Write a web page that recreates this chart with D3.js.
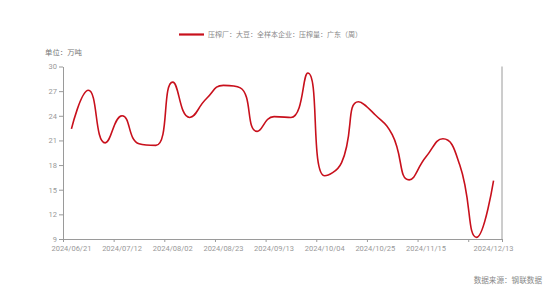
<!DOCTYPE html>
<html><head><meta charset="utf-8">
<script src="https://cdn.jsdelivr.net/npm/d3@7/dist/d3.min.js"></script>
<style>
html,body{margin:0;padding:0;background:#fff;}
svg{display:block;}
</style></head>
<body><svg id="c" width="553" height="291"></svg>
<script>
const dates = ["2024/06/21","2024/06/28","2024/07/05","2024/07/12","2024/07/19","2024/07/26","2024/08/02","2024/08/09","2024/08/16","2024/08/23","2024/08/30","2024/09/06","2024/09/13","2024/09/20","2024/09/27","2024/10/04","2024/10/11","2024/10/18","2024/10/25","2024/11/01","2024/11/08","2024/11/15","2024/11/22","2024/11/29","2024/12/06","2024/12/13"];
const values = [22.4,27.1,20.7,24.0,20.6,20.4,28.1,23.8,26.1,27.7,27.4,22.1,23.9,23.8,29.2,16.7,18.3,25.7,24.1,21.7,16.2,19.0,21.2,18.0,9.2,16.1];
const yTicks = [9,12,15,18,21,24,27,30];
const xLabelIdx = [0,3,6,9,12,15,18,21,25];
const xTickIdx = [0,3,6,9,12,15,18,21,24,26];
const seriesName = "压榨厂：大豆：全样本企业：压榨量：广东（周）";
const unitText = "单位：万吨";
const sourceText = "数据来源：钢联数据";

const L = 63, R = 502, T = 66.5, B = 239;
const svg = d3.select("#c");
const x = d3.scaleBand().domain(dates).range([L, R]).padding(0);
const xi = d3.scaleLinear().domain([0, dates.length]).range([L, R]);
const y = d3.scaleLinear().domain([9, 30]).range([B, T]);
const axisColor = "#9a9a9a", labelColor = "#999";
const numFont = "Roboto, 'Noto Sans', sans-serif";
const cjkFont = "'Noto Sans CJK SC', sans-serif";

// Y axis
const gy = svg.append("g").attr("transform", `translate(${L},0)`)
  .call(d3.axisLeft(y).tickValues(yTicks).tickSize(4).tickSizeOuter(0).tickPadding(2));
gy.select(".domain").attr("stroke", axisColor);
gy.selectAll(".tick line").attr("stroke", axisColor);
gy.selectAll(".tick text").attr("fill", labelColor).style("font-size", "7.5px").style("font-family", numFont);

// right axis line
svg.append("line").attr("x1", R).attr("x2", R).attr("y1", T).attr("y2", B).attr("stroke", axisColor);

// X axis
const gx = svg.append("g").attr("transform", `translate(0,${B})`)
  .call(d3.axisBottom(xi).tickValues(xTickIdx).tickFormat("").tickSize(3).tickSizeOuter(0));
gx.select(".domain").attr("stroke", axisColor);
gx.selectAll(".tick line").attr("stroke", axisColor);
svg.append("g").selectAll("text").data(xLabelIdx).join("text")
  .attr("x", i => x(dates[i]) + x.bandwidth() / 2)
  .attr("y", B + 12.3)
  .attr("text-anchor", "middle")
  .attr("fill", labelColor).style("font-size", "7.5px").style("font-family", numFont)
  .text(i => dates[i]);

// echarts-like smooth line
function smoothPath(pts, smooth) {
  const p = d3.path();
  const n = pts.length;
  let cpx0 = pts[0][0], cpy0 = pts[0][1];
  p.moveTo(pts[0][0], pts[0][1]);
  for (let i = 1; i < n; i++) {
    const [xx, yy] = pts[i];
    let cpx1, cpy1, nx0, ny0;
    if (i === n - 1) { cpx1 = xx; cpy1 = yy; }
    else {
      const [px, py] = pts[i - 1], [qx, qy] = pts[i + 1];
      let vx = qx - px, vy = qy - py;
      const lp = Math.hypot(xx - px, yy - py), ln = Math.hypot(qx - xx, qy - yy);
      const r = ln / (ln + lp);
      nx0 = xx + vx * smooth * r; ny0 = yy + vy * smooth * r;
      nx0 = Math.max(Math.min(nx0, Math.max(qx, xx)), Math.min(qx, xx));
      ny0 = Math.max(Math.min(ny0, Math.max(qy, yy)), Math.min(qy, yy));
      vx = nx0 - xx; vy = ny0 - yy;
      cpx1 = xx - vx * lp / ln; cpy1 = yy - vy * lp / ln;
      cpx1 = Math.max(Math.min(cpx1, Math.max(px, xx)), Math.min(px, xx));
      cpy1 = Math.max(Math.min(cpy1, Math.max(py, yy)), Math.min(py, yy));
      vx = xx - cpx1; vy = yy - cpy1;
      nx0 = xx + vx * ln / lp; ny0 = yy + vy * ln / lp;
    }
    p.bezierCurveTo(cpx0, cpy0, cpx1, cpy1, xx, yy);
    cpx0 = nx0; cpy0 = ny0;
  }
  return p.toString();
}
const pts = values.map((v, i) => [x(dates[i]) + x.bandwidth() / 2, y(v)]);
const lineColor = "#c8101c";
svg.append("path").attr("d", smoothPath(pts, 0.5))
  .attr("fill", "none").attr("stroke", lineColor).attr("stroke-width", 1.6);

// legend
svg.append("line").attr("x1", 179).attr("x2", 204).attr("y1", 34.5).attr("y2", 34.5)
  .attr("stroke", lineColor).attr("stroke-width", 2.2);
svg.append("text").attr("x", 208).attr("y", 37).attr("fill", "#888")
  .style("font-size", "7px").style("font-family", cjkFont).text(seriesName);

svg.append("text").attr("x", 45).attr("y", 55).attr("fill", "#777")
  .style("font-size", "7.4px").style("font-family", cjkFont).text(unitText);
svg.append("text").attr("x", 542).attr("y", 283).attr("text-anchor", "end").attr("fill", "#888")
  .style("font-size", "7.6px").style("font-family", cjkFont).text(sourceText);
</script></body></html>
